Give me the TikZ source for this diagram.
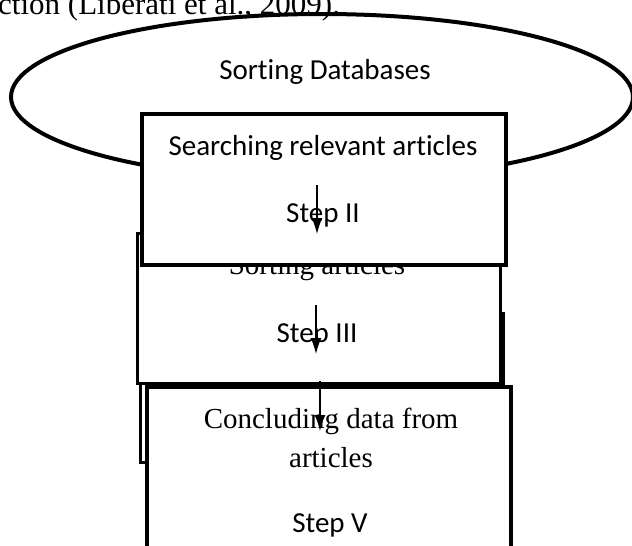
\documentclass[tikz,border=0pt]{standalone}
\usepackage{fontspec}
\setmainfont{Carlito}[Ligatures=NoCommon]
\newfontfamily\timesfont{Liberation Serif}
\usetikzlibrary{arrows.meta,shapes.geometric}
\begin{document}
\begin{tikzpicture}[x=1pt,y=-1pt,
  cal/.style={font=\fontsize{29}{35}\selectfont, anchor=base, inner sep=0pt},
  tim/.style={font=\timesfont\fontsize{29}{35}\selectfont, anchor=base, inner sep=0pt},
  boxA/.style={draw=black, fill=white, rectangle, inner sep=0pt},
  flowarrow/.style={draw=black, line width=1.5pt, -{Latex[length=16pt,width=11pt]}}
]
\clip (0,0) rectangle (632,546);
\fill[white] (0,0) rectangle (632,546);
% top running text (cut off)
\node[tim, font=\timesfont\fontsize{31}{36}\selectfont, anchor=base west] (runtext) at (-2,14) {ction (Liberati et al., 2009).};
% ellipse
\node[draw=black, line width=4pt, ellipse, minimum width=622pt, minimum height=166pt, inner sep=0pt] (db) at (322,97) {};
\node[cal] (dbtext) at (325,79) {Sorting Databases};
% hidden box behind
\node[boxA, line width=3pt, minimum width=363.5pt, minimum height=149pt] (hidden) at (321.75,387.5) {};
% box 2
\node[boxA, line width=3pt, minimum width=363pt, minimum height=150pt] (box2) at (318.5,308) {};
\node[tim] (t2) at (317,274) {Sorting articles};
\node[cal] (s2) at (317,342) {Step III};
% box 1
\node[boxA, line width=3.5pt, minimum width=364pt, minimum height=151pt] (box1) at (324,189.5) {};
\node[cal] (t1) at (323,155) {Searching relevant articles};
\node[cal] (s1) at (323,222) {Step II};
% box 3
\node[boxA, line width=3.5pt, minimum width=364pt, minimum height=180pt] (box3) at (329,477) {};
\node[tim] (t3a) at (331,428) {Concluding data from};
\node[tim] (t3b) at (331,467) {articles};
\node[cal] (s3) at (330,532) {Step V};
% arrows
\coordinate (a1s) at (317,185);
\coordinate (a1e) at (317,234);
\coordinate (a2s) at (316,305);
\coordinate (a2e) at (316,354);
\coordinate (a3s) at (320,381);
\coordinate (a3e) at (320,431);
\draw[flowarrow] (a1s) -- (a1e);
\draw[flowarrow] (a2s) -- (a2e);
\draw[flowarrow] (a3s) -- (a3e);
\end{tikzpicture}
\end{document}
